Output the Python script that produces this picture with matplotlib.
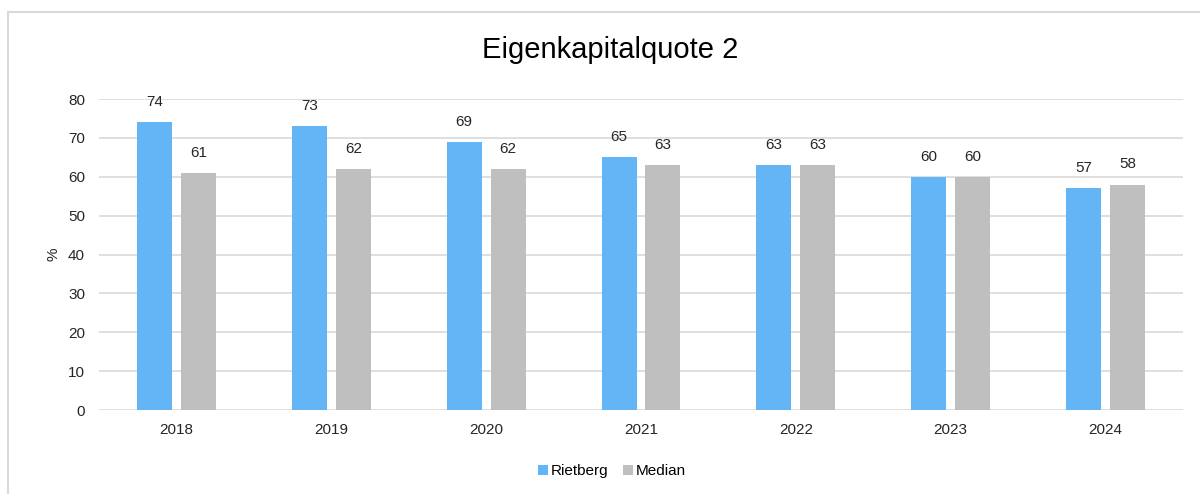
import matplotlib
matplotlib.use("Agg")
from matplotlib import pyplot as plt
from matplotlib.patches import Rectangle
import numpy as np

plt.rcParams['font.family'] = ['Liberation Sans', 'DejaVu Sans']

years = ['2018', '2019', '2020', '2021', '2022', '2023', '2024']
rietberg = [74, 73, 69, 65, 63, 60, 57]
median = [61, 62, 62, 63, 63, 60, 58]

fig = plt.figure(figsize=(12, 4.94), dpi=100)
ax = fig.add_axes([99/1200, 1-410/494, (1183-99)/1200, (410-99)/494])

x = np.arange(len(years))
w = 0.226
off = 0.142
b1 = ax.bar(x - off, rietberg, w, color='#63b5f6', label='Rietberg', zorder=3)
b2 = ax.bar(x + off, median, w, color='#bfbfbf', label='Median', zorder=3)

for bars in (b1, b2):
    for b in bars:
        ax.annotate(str(int(b.get_height())), (b.get_x() + b.get_width()/2, b.get_height()),
                    xytext=(0, 14.5), textcoords='offset points', ha='center', va='center',
                    fontsize=11, color='#262626')

ax.set_xlim(-0.5, len(years) - 0.5)
ax.set_ylim(0, 80)
ax.set_yticks(range(0, 81, 10))
ax.set_xticks(x)
ax.set_xticklabels(years)
ax.tick_params(length=0, labelsize=11, colors='#262626')
ax.tick_params(axis='y', pad=10)
ax.tick_params(axis='x', pad=9)
ax.grid(axis='y', color='#d9d9d9', linewidth=1.2, zorder=0)
for s in ax.spines.values():
    s.set_visible(False)
ax.set_ylabel('%', fontsize=11, color='#262626', labelpad=5.5)

fig.text(610/1200, 1-50/494, 'Eigenkapitalquote 2', ha='center', va='center',
         fontsize=21, color='#000000')

ax.legend(loc='center', bbox_to_anchor=(612/1200, 1-471/494), bbox_transform=fig.transFigure,
          ncol=2, frameon=False, fontsize=11, handlelength=0.65, handleheight=0.65,
          handletextpad=0.15, columnspacing=1.0)

fig.patches.append(Rectangle((8/1200, -0.1), 1.2, 1.1 - 12/494, transform=fig.transFigure,
                             fill=False, edgecolor='#d9d9d9', linewidth=1.5))

fig.savefig('out.png', dpi=100)
